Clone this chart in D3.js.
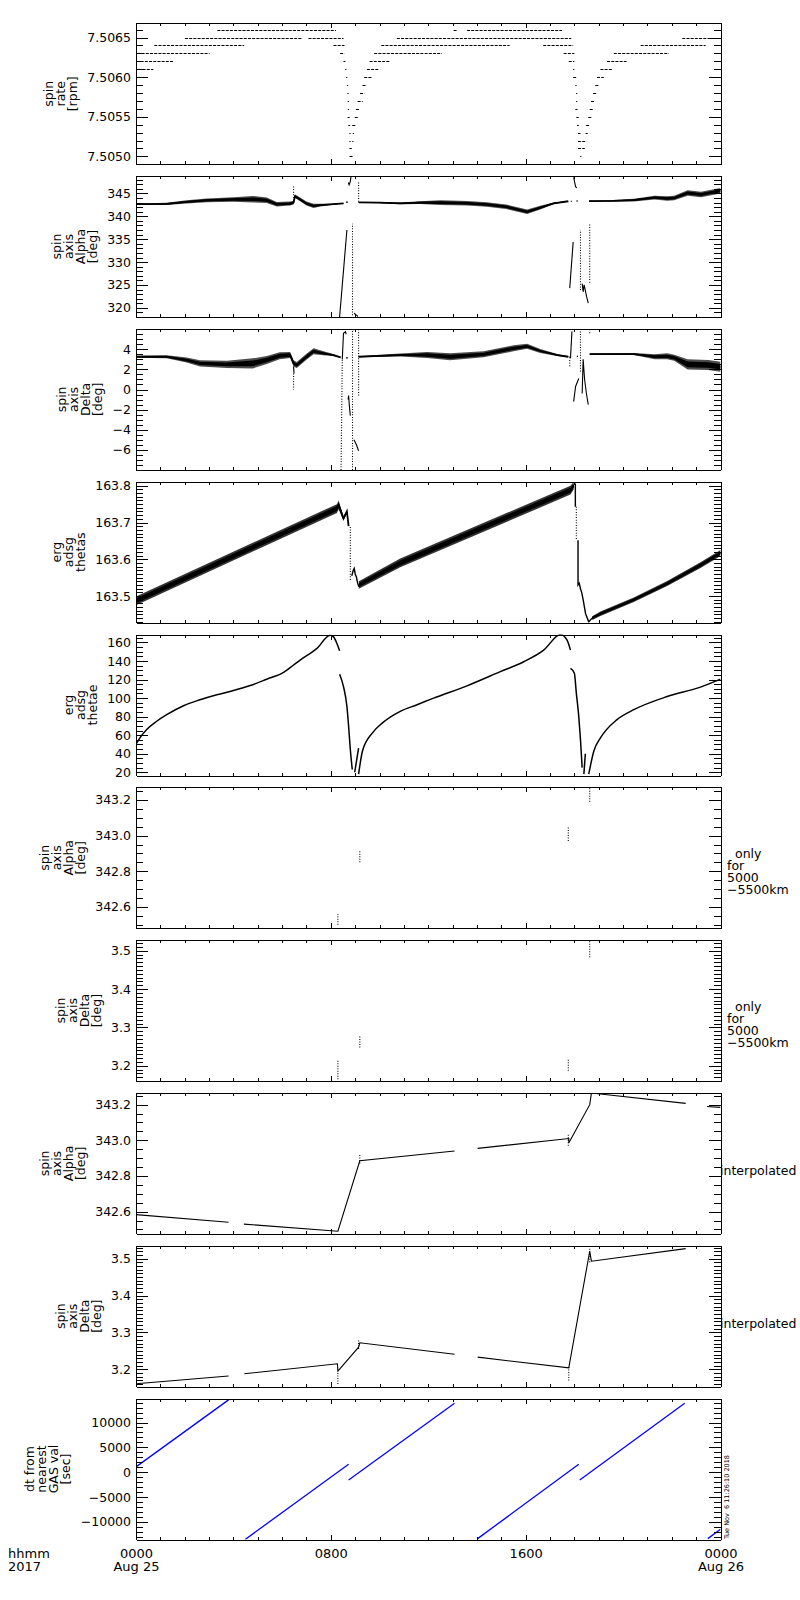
<!DOCTYPE html>
<html>
<head>
<meta charset="utf-8">
<script src="https://cdn.jsdelivr.net/npm/d3@7"></script>
<style>
body{margin:0;background:#fff}
svg text{font-family:"DejaVu Sans",sans-serif;fill:#000}
</style>
</head>
<body>
<div id="chart"></div>
<script>
// time axis (hours of Aug 25 2017)
var hourTicks = [0, 8, 16, 24];
var hourLabels = ["0000", "0800", "1600", "0000"];
var dayLabels = ["Aug 25", "", "", "Aug 26"];

// y tick labels per panel
var rateTicks = [7.5050, 7.5055, 7.5060, 7.5065];
var alphaTicks = [320, 325, 330, 335, 340, 345];
var deltaTicks = [-6, -4, -2, 0, 2, 4];
var thetasTicks = [163.5, 163.6, 163.7, 163.8];
var thetaeTicks = [20, 40, 60, 80, 100, 120, 140, 160];
var alphaFineTicks = [342.6, 342.8, 343.0, 343.2];
var deltaFineTicks = [3.2, 3.3, 3.4, 3.5];
var dtTicks = [-10000, -5000, 0, 5000, 10000];

// spin rate: quantized levels [rpm, t start, t end]
var rateSegs = [
	[7.5066, 3.34, 8.21], [7.5065, 2.01, 6.81], [7.5065, 7.08, 8.52], [7.5064, 0.75, 4.44], [7.5064, 8.11, 8.56],
	[7.5063, 0.23, 3.02], [7.5063, 8.38, 8.56], [7.5062, 0.19, 1.56], [7.5062, 8.52, 8.6], [7.5061, 0.1, 0.71],
	[7.5061, 8.59, 8.62], [7.5060, 8.63, 8.65], [7.5059, 8.66, 8.68], [7.5058, 8.68, 8.7], [7.5057, 8.69, 8.71],
	[7.5056, 8.7, 8.73], [7.5055, 8.69, 8.77], [7.5054, 8.72, 8.79], [7.5053, 8.76, 8.78], [7.5052, 8.76, 8.78],
	[7.5051, 8.76, 8.86], [7.5050, 8.77, 8.91], [7.5052, 8.88, 8.9], [7.5053, 8.9, 8.92], [7.5054, 8.88, 9.01],
	[7.5055, 8.98, 9.11], [7.5056, 9.03, 9.2], [7.5057, 9.1, 9.31], [7.5058, 9.2, 9.38], [7.5059, 9.3, 9.48],
	[7.5060, 9.37, 9.68], [7.5061, 9.48, 9.98], [7.5062, 9.59, 10.44], [7.5063, 9.78, 12.56], [7.5064, 10.07, 15.34],
	[7.5065, 10.71, 17.87], [7.5066, 13.04, 13.18], [7.5066, 13.59, 17.49], [7.5064, 16.72, 17.95], [7.5063, 17.56, 18.0],
	[7.5062, 17.77, 18.0], [7.5061, 17.95, 17.97], [7.5060, 17.95, 18.08], [7.5059, 18.04, 18.06], [7.5058, 18.07, 18.09],
	[7.5057, 18.07, 18.09], [7.5056, 18.04, 18.13], [7.5055, 18.08, 18.18], [7.5054, 18.11, 18.18], [7.5053, 18.15, 18.25],
	[7.5052, 18.15, 18.5], [7.5051, 18.15, 18.43], [7.5050, 18.24, 18.26], [7.5053, 18.46, 18.55], [7.5054, 18.48, 18.63],
	[7.5055, 18.57, 18.7], [7.5056, 18.63, 18.77], [7.5057, 18.68, 18.84], [7.5058, 18.77, 18.91], [7.5059, 18.86, 19.0],
	[7.5060, 18.93, 19.21], [7.5061, 19.07, 19.55], [7.5062, 19.34, 20.14], [7.5063, 19.62, 21.88], [7.5064, 20.72, 23.39],
	[7.5065, 22.43, 24.0]
];

// spin axis alpha: noisy band pieces [t, centre, half width]
var alphaBand = [
	[[0, 342.66, 0.15], [1.26, 342.72, 0.25], [2.08, 343.15, 0.35], [2.9, 343.5, 0.4], [4.0, 343.7, 0.5], [4.8, 343.75, 0.7],
	 [5.37, 343.5, 0.6], [5.78, 342.65, 0.5], [6.33, 342.8, 0.45], [6.47, 343.0, 0.4], [6.53, 344.4, 0.4], [6.74, 343.7, 0.4],
	 [7.0, 342.8, 0.45], [7.29, 342.3, 0.45], [7.56, 342.45, 0.3], [7.97, 342.6, 0.15], [8.52, 342.85, 0.08]],
	[[9.14, 343.05, 0.08], [10.0, 343.0, 0.12], [10.85, 342.85, 0.2], [11.67, 343.0, 0.3], [12.5, 343.0, 0.5], [13.6, 342.85, 0.5],
	 [14.4, 342.6, 0.5], [15.2, 342.1, 0.5], [16.06, 341.0, 0.5], [16.6, 341.9, 0.4], [17.15, 342.85, 0.2], [17.75, 343.3, 0.06]],
	[[18.6, 343.35, 0.08], [19.6, 343.4, 0.15], [20.44, 343.55, 0.3], [21.3, 344.1, 0.4], [21.81, 343.9, 0.5], [22.1, 344.0, 0.5],
	 [22.65, 345.1, 0.6], [23.2, 344.8, 0.6], [24.0, 345.6, 0.6]]
];
var alphaSolid = [
	[[8.36, 318.0], [8.66, 337.0]],
	[[8.72, 347.4], [8.75, 346.9], [8.8, 347.6], [8.83, 348.8]],
	[[8.95, 318.8], [9.05, 318.4], [9.12, 318.1]],
	[[8.62, 343.1], [8.7, 343.1]],
	[[17.81, 324.3], [17.95, 334.4]],
	[[17.97, 348.5], [18.05, 346.5], [18.1, 346.2]],
	[[18.32, 325.3], [18.36, 323.5], [18.4, 325.0], [18.5, 322.5], [18.57, 321.0]],
	[[17.85, 343.3], [17.9, 343.3]], [[18.08, 343.35], [18.15, 343.35]]
];
var alphaDotted = [
	[[6.47, 342.9], [6.47, 346.6]],
	[[8.89, 318.4], [8.89, 338.4]],
	[[9.14, 343.2], [9.14, 347.5]],
	[[18.25, 323.9], [18.25, 337.0]],
	[[18.63, 325.5], [18.63, 338.5]]
];

// spin axis delta
var deltaBand = [
	[[0, 3.26, 0.1], [1.26, 3.26, 0.15], [2.08, 2.93, 0.25], [2.63, 2.6, 0.3], [3.73, 2.5, 0.35], [4.8, 2.6, 0.5], [5.37, 2.93, 0.4],
	 [5.9, 3.36, 0.35], [6.33, 3.43, 0.3], [6.47, 2.6, 0.3], [6.6, 2.43, 0.3], [7.0, 3.26, 0.3], [7.29, 3.8, 0.3], [7.7, 3.6, 0.2],
	 [8.1, 3.43, 0.1], [8.4, 3.2, 0.05]],
	[[9.14, 3.26, 0.05], [10.0, 3.35, 0.1], [10.85, 3.43, 0.15], [11.95, 3.43, 0.3], [12.9, 3.26, 0.35], [14.27, 3.5, 0.3],
	 [15.5, 4.1, 0.3], [16.06, 4.3, 0.25], [16.6, 3.83, 0.2], [17.3, 3.43, 0.1], [17.75, 3.26, 0.05]],
	[[18.63, 3.53, 0.05], [20.44, 3.53, 0.1], [21.3, 3.26, 0.25], [21.81, 3.3, 0.3], [22.1, 3.16, 0.3], [22.65, 2.5, 0.5],
	 [23.5, 2.43, 0.5], [24.0, 2.26, 0.5]]
];
var deltaSolid = [
	[[8.47, 3.0], [8.52, 5.6], [8.6, 5.75], [8.63, 5.5]],
	[[8.71, -1.0], [8.73, -0.6], [8.76, -1.6], [8.8, -2.6]],
	[[8.95, -5.0], [9.05, -5.5], [9.14, -6.1]],
	[[6.47, 2.3], [6.49, 1.6]],
	[[17.84, 3.1], [17.9, 5.8]],
	[[17.97, -1.2], [18.05, 0.3], [18.18, 1.1]],
	[[18.32, -0.4], [18.36, 3.0], [18.42, 1.0], [18.5, -0.5], [18.57, -1.5]],
	[[8.62, 3.15], [8.7, 3.15]], [[17.8, 3.25], [17.85, 3.25]], [[18.1, 3.3], [18.15, 3.3]]
];
var deltaDotted = [
	[[6.47, 1.6], [6.47, 0.0]],
	[[8.42, -8.0], [8.47, 3.0]],
	[[8.89, -8.0], [8.89, 5.9]],
	[[9.14, -0.6], [9.14, 5.9]],
	[[17.81, 3.2], [17.81, 2.2]],
	[[18.25, 1.8], [18.25, 5.9]],
	[[18.63, 5.6], [18.63, 5.9]]
];

// erg adsg thetas
var thetasBand = [
	[[0, 163.487, 0.012], [8.25, 163.738, 0.012], [8.32, 163.748, 0.012], [8.52, 163.711, 0.006], [8.66, 163.73, 0.004], [8.73, 163.69, 0.003]],
	[[9.15, 163.53, 0.01], [10.85, 163.59, 0.012], [17.84, 163.788, 0.012], [17.97, 163.8, 0.01]],
	[[18.73, 163.44, 0.005], [19.07, 163.452, 0.006], [20.44, 163.49, 0.006], [21.81, 163.534, 0.007], [23.18, 163.584, 0.008], [24.0, 163.617, 0.008]]
];
var thetasSolid = [
	[[8.86, 163.555], [8.92, 163.57], [8.96, 163.575], [9.0, 163.56], [9.05, 163.552], [9.1, 163.535], [9.15, 163.525]],
	[[18.04, 163.806], [18.04, 163.743]],
	[[18.15, 163.652], [18.15, 163.53], [18.2, 163.535], [18.25, 163.52], [18.3, 163.51], [18.36, 163.49], [18.46, 163.452], [18.59, 163.43], [18.73, 163.44]]
];
var thetasDotted = [
	[[8.8, 163.688], [8.8, 163.543]],
	[[18.08, 163.743], [18.08, 163.652]]
];

// erg adsg thetae
var thetaeLines = [
	[[0, 50.2], [0.16, 57.1], [0.44, 66.1], [0.85, 75], [1.26, 82.1], [1.95, 91.8], [2.63, 98.2], [3.32, 103.6], [4.0, 108.1],
	 [4.69, 113.5], [5.37, 120.4], [6.06, 127.8], [6.47, 135.7], [6.74, 141], [7.43, 153.6], [7.97, 167.8], [8.11, 166],
	 [8.25, 158.9], [8.36, 151]],
	[[8.36, 125.7], [8.52, 112.4], [8.66, 91], [8.73, 69.6], [8.8, 44.6], [8.88, 23]],
	[[8.98, 20], [9.14, 46]],
	[[9.14, 18], [9.3, 43], [9.71, 62.5], [10.12, 73.2], [10.85, 85.7], [11.54, 92.8], [12.22, 100], [13.59, 113.2],
	 [14.96, 128.5], [15.92, 139.2], [16.74, 151.7], [17.43, 168.6], [17.7, 162.5], [17.84, 151.7]],
	[[17.84, 132], [18.0, 126.8], [18.08, 105.4], [18.18, 80.3], [18.25, 55.3], [18.32, 25]],
	[[18.39, 18], [18.45, 40]],
	[[18.59, 18], [18.8, 43], [19.07, 57], [19.75, 76.8], [20.44, 87.5], [21.81, 101.7], [23.18, 111.8], [24.0, 120.4]]
];

// only for 5000-5500km: [t, from, to]
var alphaShort = [[8.29, 342.5, 342.56], [9.19, 342.85, 342.92], [17.75, 342.97, 343.05], [18.63, 343.19, 343.27]];
var deltaShort = [[8.29, 3.165, 3.217], [9.19, 3.248, 3.277], [17.75, 3.187, 3.217], [18.63, 3.483, 3.526]];

// interpolated
var alphaInterp = [
	[[0, 342.583], [3.8, 342.54]],
	[[4.43, 342.53], [8.29, 342.49], [9.19, 342.885], [13.08, 342.94]],
	[[14.03, 342.955], [17.77, 343.01], [17.77, 342.985], [18.63, 343.2], [18.7, 343.265], [22.57, 343.207]],
	[[23.45, 343.19], [24.0, 343.185]]
];
var alphaInterpDots = [[9.19, 342.87, 342.92], [17.75, 342.97, 343.04]];
var deltaInterp = [
	[[0, 3.161], [3.8, 3.182]],
	[[4.45, 3.188], [8.27, 3.215], [8.29, 3.195], [9.14, 3.26], [9.19, 3.272], [13.08, 3.241]],
	[[14.03, 3.233], [17.77, 3.204], [18.63, 3.52], [18.7, 3.493], [22.57, 3.527]]
];
var deltaInterpDots = [[9.14, 3.255, 3.28], [17.77, 3.17, 3.21], [18.63, 3.49, 3.53], [8.29, 3.16, 3.19]];

// dt from nearest GAS value [sec]
var dtLines = [
	[[0, 1066], [3.8, 14550]],
	[[4.48, -13540], [8.73, 1600]],
	[[8.73, -1550], [13.08, 13880]],
	[[14.03, -13360], [18.18, 1600]],
	[[18.22, -1550], [22.53, 13880]],
	[[23.48, -13360], [24.0, -11470]]
];

var left = 136, right = 720.5, top0 = 23.3, step = 152.8, ph = 141;

var svg = d3.select("#chart").append("svg")
	.attr("width", 800)
	.attr("height", 1600)
	.style("background", "#fff");

var x = d3.scaleLinear().domain([0, 24]).range([left, right]);

function lines(plot, y, polys, dotted, color, width, curve){
	var line = d3.line().x(function(d){return x(d[0]);}).y(function(d){return y(d[1]);})
		.curve(curve || d3.curveLinear);
	plot.selectAll(null).data(polys).enter().append("path")
		.attr("d", line)
		.attr("fill", "none")
		.attr("stroke", color || "#000")
		.attr("stroke-width", width || 1.1)
		.attr("stroke-dasharray", dotted ? "1,1.6" : null);
}

function vdots(plot, y, segs){
	plot.selectAll(null).data(segs).enter().append("line")
		.attr("x1", function(d){return x(d[0]);})
		.attr("x2", function(d){return x(d[0]);})
		.attr("y1", function(d){return y(d[1]);})
		.attr("y2", function(d){return y(d[2]);})
		.attr("stroke", "#000")
		.attr("stroke-width", 1.1)
		.attr("stroke-dasharray", "1,1.5");
}

function band(plot, y, pieces, outerOpacity){
	var outer = d3.area().x(function(d){return x(d[0]);})
		.y0(function(d){return y(d[1] - d[2]);}).y1(function(d){return y(d[1] + d[2]);});
	var inner = d3.area().x(function(d){return x(d[0]);})
		.y0(function(d){return y(d[1] - d[2] * 0.55);}).y1(function(d){return y(d[1] + d[2] * 0.55);});
	var mid = d3.line().x(function(d){return x(d[0]);}).y(function(d){return y(d[1]);});
	pieces.forEach(function(pc){
		plot.append("path").datum(pc).attr("d", outer).attr("fill", "#000").attr("fill-opacity", outerOpacity);
		plot.append("path").datum(pc).attr("d", inner).attr("fill", "#000");
		plot.append("path").datum(pc).attr("d", mid).attr("fill", "none").attr("stroke", "#000").attr("stroke-width", 1.8);
	});
}

var spinAlpha = ["spin", "axis", "Alpha", "[deg]"];
var spinDelta = ["spin", "axis", "Delta", "[deg]"];
var onlyNote = ["only", "for", "5000", "\u22125500km"];

var panels = [
	{title: ["spin", "rate", "[rpm]"], domain: [7.50490, 7.50668], ticks: rateTicks, fmt: ".4f", minor: 0.0001,
	 draw: function(p, y){
		p.selectAll(null).data(rateSegs).enter().append("line")
			.attr("x1", function(d){return x(d[1]);})
			.attr("x2", function(d){return Math.max(x(d[2]), x(d[1]) + 1.2);})
			.attr("y1", function(d){return Math.round(y(d[0])) + 0.5;})
			.attr("y2", function(d){return Math.round(y(d[0])) + 0.5;})
			.attr("stroke", "#000")
			.attr("stroke-width", 1.2)
			.attr("stroke-dasharray", "3,1.2");
	 }},
	{title: spinAlpha, domain: [317.97, 348.8], ticks: alphaTicks, fmt: "d", minor: 1,
	 draw: function(p, y){ band(p, y, alphaBand, 0.7); lines(p, y, alphaSolid, false); lines(p, y, alphaDotted, true); }},
	{title: spinDelta, domain: [-8.0, 6.03], ticks: deltaTicks, fmt: "d", minor: 0.5,
	 draw: function(p, y){ band(p, y, deltaBand, 0.7); lines(p, y, deltaSolid, false); lines(p, y, deltaDotted, true); }},
	{title: ["erg", "adsg", "thetas"], domain: [163.4275, 163.811], ticks: thetasTicks, fmt: ".1f", minor: 0.01,
	 draw: function(p, y){ band(p, y, thetasBand, 0.8); lines(p, y, thetasSolid, false, "#000", 1.4); lines(p, y, thetasDotted, true); }},
	{title: ["erg", "adsg", "thetae"], domain: [16.5, 168.6], ticks: thetaeTicks, fmt: "d", minor: 5,
	 draw: function(p, y){ lines(p, y, thetaeLines, false, "#000", 1.5, d3.curveMonotoneX); }},
	{title: spinAlpha, domain: [342.48, 343.271], ticks: alphaFineTicks, fmt: ".1f", minor: 0.05, note: onlyNote,
	 draw: function(p, y){ vdots(p, y, alphaShort); }},
	{title: spinDelta, domain: [3.16, 3.528], ticks: deltaFineTicks, fmt: ".1f", minor: 0.01, note: onlyNote,
	 draw: function(p, y){ vdots(p, y, deltaShort); }},
	{title: spinAlpha, domain: [342.475, 343.266], ticks: alphaFineTicks, fmt: ".1f", minor: 0.05, note: ["interpolated"],
	 draw: function(p, y){ lines(p, y, alphaInterp, false); vdots(p, y, alphaInterpDots); }},
	{title: spinDelta, domain: [3.153, 3.535], ticks: deltaFineTicks, fmt: ".1f", minor: 0.01, note: ["interpolated"],
	 draw: function(p, y){ lines(p, y, deltaInterp, false); vdots(p, y, deltaInterpDots); }},
	{title: ["dt from", "nearest", "GAS val", "[sec]"], domain: [-13540, 14830], ticks: dtTicks, fmt: "d", minor: 1000,
	 draw: function(p, y){ lines(p, y, dtLines, false, "#0000ff", 1.3); }}
];

function stepTicks(domain, s){
	var k0 = Math.ceil(domain[0] / s - 1e-9), k1 = Math.floor(domain[1] / s + 1e-9);
	return d3.range(k0, k1 + 1).map(function(k){ return k * s; });
}

var hourly = d3.range(0, 25);

panels.forEach(function(pn, i){
	var y0 = top0 + i * step;
	var y = d3.scaleLinear().domain(pn.domain).range([y0 + ph, y0]);
	var g = svg.append("g").attr("class", "panel");

	g.append("clipPath").attr("id", "clip" + i)
		.append("rect").attr("x", left).attr("y", y0).attr("width", right - left).attr("height", ph);
	var plot = g.append("g").attr("clip-path", "url(#clip" + i + ")");
	pn.draw(plot, y);

	var minors = stepTicks(pn.domain, pn.minor);
	var ax = g.append("g").attr("class", "axes").style("shape-rendering", "crispEdges");

	ax.append("g").attr("transform", "translate(" + left + ",0)")
		.call(d3.axisLeft(y).tickValues(minors).tickSize(-6.5).tickSizeOuter(0).tickFormat(""));
	var yl = ax.append("g").attr("transform", "translate(" + left + ",0)")
		.call(d3.axisLeft(y).tickValues(pn.ticks).tickSize(-12).tickSizeOuter(0).tickPadding(5).tickFormat(d3.format(pn.fmt)));
	ax.append("g").attr("transform", "translate(" + right + ",0)")
		.call(d3.axisRight(y).tickValues(minors).tickSize(-6.5).tickSizeOuter(0).tickFormat(""));
	ax.append("g").attr("transform", "translate(" + right + ",0)")
		.call(d3.axisRight(y).tickValues(pn.ticks).tickSize(-12).tickSizeOuter(0).tickFormat(""));

	ax.append("g").attr("transform", "translate(0," + y0 + ")")
		.call(d3.axisTop(x).tickValues(hourly).tickSize(-3).tickSizeOuter(0).tickFormat(""));
	ax.append("g").attr("transform", "translate(0," + y0 + ")")
		.call(d3.axisTop(x).tickValues(hourTicks).tickSize(-5).tickSizeOuter(0).tickFormat(""));
	ax.append("g").attr("transform", "translate(0," + (y0 + ph) + ")")
		.call(d3.axisBottom(x).tickValues(hourly).tickSize(-3).tickSizeOuter(0).tickFormat(""));
	var xb = ax.append("g").attr("transform", "translate(0," + (y0 + ph) + ")")
		.call(d3.axisBottom(x).tickValues(hourTicks).tickSize(-5).tickSizeOuter(0).tickPadding(9)
			.tickFormat(function(d, j){ return i === panels.length - 1 ? hourLabels[j] : ""; }));

	ax.selectAll("path, line").attr("stroke", "#000").attr("stroke-width", 1);
	yl.selectAll("text").attr("font-size", 12.5).attr("font-family", "DejaVu Sans");

	if(i === panels.length - 1){
		xb.selectAll(".tick text")
			.attr("font-size", 13).attr("font-family", "DejaVu Sans")
			.each(function(d, j){
				d3.select(this).append("tspan").attr("x", 0).attr("dy", "1.0em").text(dayLabels[j]);
			});
	}

	// y title, rotated, placed left of the widest tick label
	var maxW = 0;
	yl.selectAll(".tick text").each(function(){ maxW = Math.max(maxW, this.getComputedTextLength()); });
	var lastX = left - 5 - maxW - 10.5;
	var n = pn.title.length;
	pn.title.forEach(function(t, k){
		g.append("text")
			.attr("transform", "translate(" + (lastX - (n - 1 - k) * 12) + "," + (y0 + ph / 2) + ") rotate(-90)")
			.attr("text-anchor", "middle")
			.attr("font-size", 12.5)
			.text(t);
	});

	if(pn.note){
		if(pn.note.length > 1){
			pn.note.forEach(function(t, k){
				g.append("text")
					.attr("x", k === 0 ? 735 : 727)
					.attr("y", y0 + 71 + k * 12)
					.attr("font-size", 12.5)
					.text(t);
			});
		} else {
			g.append("text").attr("x", 720).attr("y", y0 + 82.5).attr("font-size", 12.5).text(pn.note[0]);
		}
	}
});

svg.append("text").attr("x", 8).attr("y", 1557.7).attr("font-size", 13).text("hhmm");
svg.append("text").attr("x", 8).attr("y", 1570.5).attr("font-size", 13).text("2017");

svg.append("text")
	.attr("transform", "translate(728.5,1539) rotate(-90)")
	.attr("font-size", 6.5)
	.style("white-space", "pre")
	.text("Tue Nov  6 11:26:10 2018");
</script>
</body>
</html>
